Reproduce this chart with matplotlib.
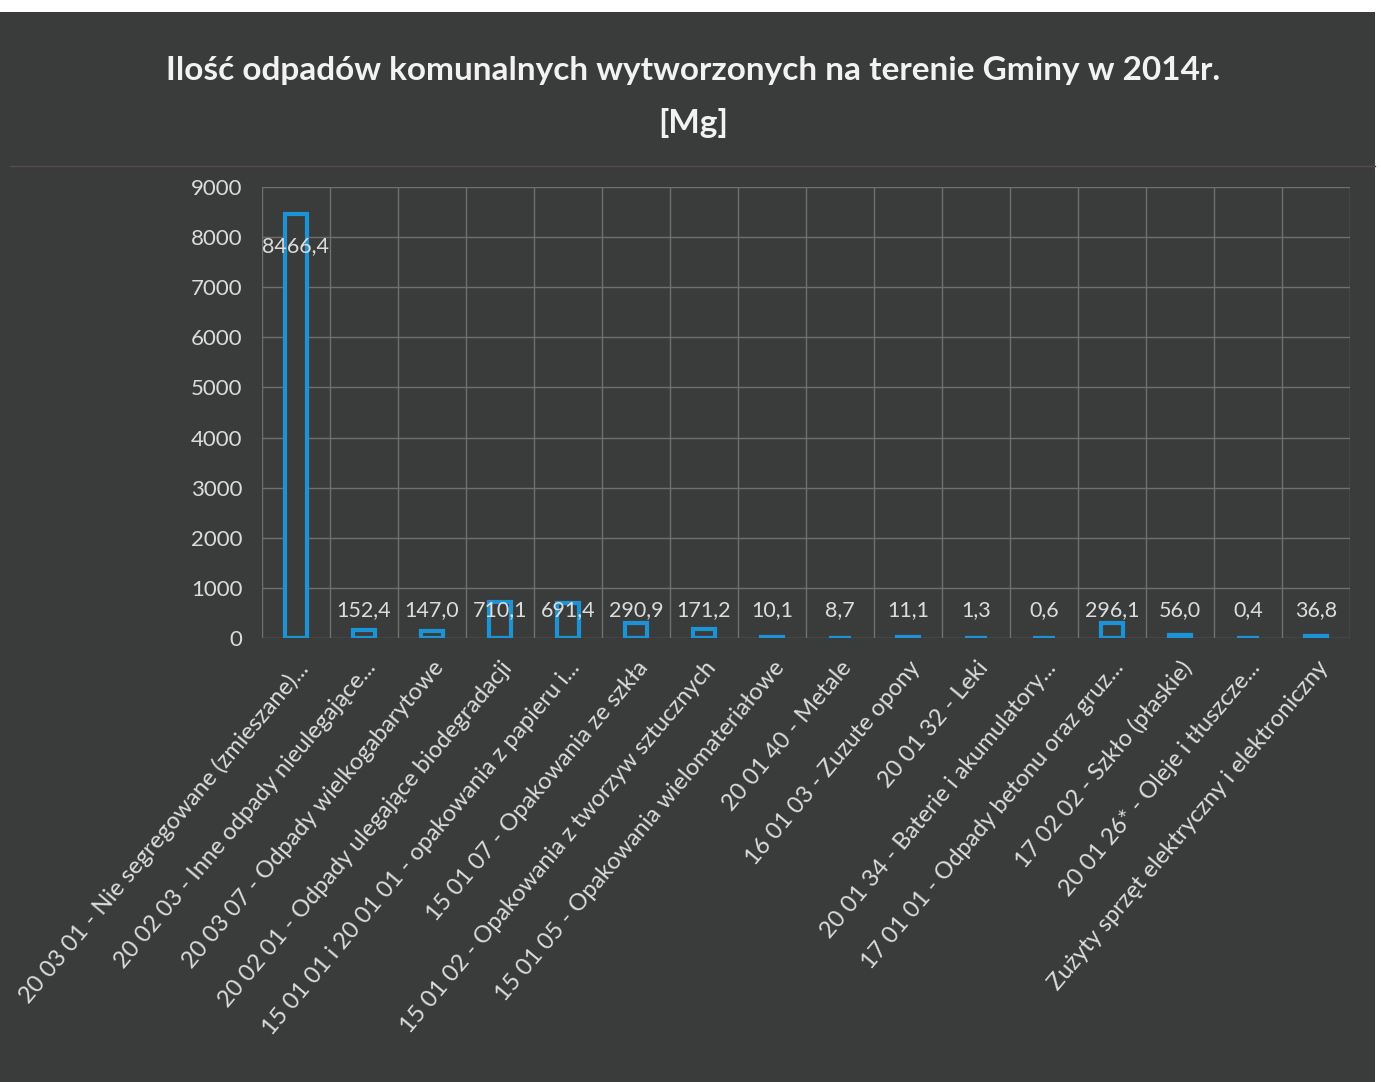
import matplotlib
matplotlib.use("Agg")
import matplotlib.pyplot as plt
from matplotlib.patches import Rectangle

categories = [
    "20 03 01 - Nie segregowane (zmieszane)...",
    "20 02 03 - Inne odpady nieulegające...",
    "20 03 07 - Odpady wielkogabarytowe",
    "20 02 01 - Odpady ulegające biodegradacji",
    "15 01 01 i 20 01 01 - opakowania z papieru i...",
    "15 01 07 - Opakowania ze szkła",
    "15 01 02 - Opakowania z tworzyw sztucznych",
    "15 01 05 - Opakowania wielomateriałowe",
    "20 01 40 - Metale",
    "16 01 03 - Zuzute opony",
    "20 01 32 - Leki",
    "20 01 34 - Baterie i akumulatory...",
    "17 01 01 - Odpady betonu oraz gruz...",
    "17 02 02 - Szkło (płaskie)",
    "20 01 26* - Oleje i tłuszcze...",
    "Zużyty sprzęt elektryczny i elektroniczny",
]
values = [8466.4, 152.4, 147.0, 710.1, 691.4, 290.9, 171.2, 10.1,
          8.7, 11.1, 1.3, 0.6, 296.1, 56.0, 0.4, 36.8]
yticks = list(range(0, 9001, 1000))

bg = "#3a3c3c"
blue = "#1b93d4"
txt = "#dcdcdc"
grid = "#6e7070"
font = "Lato"

fig = plt.figure(figsize=(13.81, 10.82), dpi=100, facecolor="white")
fig.patches.append(Rectangle((0.0, 0.0), 0.996, 0.989, transform=fig.transFigure,
                             facecolor=bg, edgecolor="none", zorder=-10))
# faint border line under title
fig.add_artist(plt.Line2D([0.007, 0.996], [0.847, 0.847], transform=fig.transFigure,
                          color="#5a4a48", lw=1))

ax = fig.add_axes([0.1897, 0.4104, 0.7879, 0.4168])
ax.set_facecolor(bg)

x = list(range(len(values)))
ax.bar(x, values, width=0.32, facecolor=bg, edgecolor=blue, linewidth=3, zorder=3)

ax.set_xlim(-0.5, len(values) - 0.5)
ax.set_ylim(0, 9000)
ax.set_yticks(yticks)
ax.set_yticklabels([str(t) for t in yticks], fontsize=16, color=txt, fontfamily=font)
ax.set_xticks(x)
ax.set_xticklabels(categories, rotation=50, ha="right", va="top", rotation_mode="anchor",
                   fontsize=17, color=txt, fontfamily=font)
ax.tick_params(axis="y", length=0, pad=14)
ax.tick_params(axis="x", length=0, pad=14)

for h in yticks:
    ax.axhline(h, color=grid, lw=1, zorder=1)
for b in range(len(values) + 1):
    ax.axvline(b - 0.5, color=grid, lw=1, zorder=1)
for s in ax.spines.values():
    s.set_visible(False)

for i, v in enumerate(values):
    lab = f"{v:.1f}".replace(".", ",")
    y = v - 650 if v > 5000 else 560
    ax.text(i, y, lab, ha="center", va="center", fontsize=15.5, color=txt,
            fontfamily=font, zorder=4)

fig.text(0.502, 0.935, "Ilość odpadów komunalnych wytworzonych na terenie Gminy w 2014r.",
         ha="center", va="center", fontsize=24, fontweight="bold", color="#f2f2f2",
         fontfamily=font)
fig.text(0.502, 0.886, "[Mg]", ha="center", va="center", fontsize=24, fontweight="bold",
         color="#f2f2f2", fontfamily=font)

fig.savefig("out.png", dpi=100, facecolor=fig.get_facecolor())
